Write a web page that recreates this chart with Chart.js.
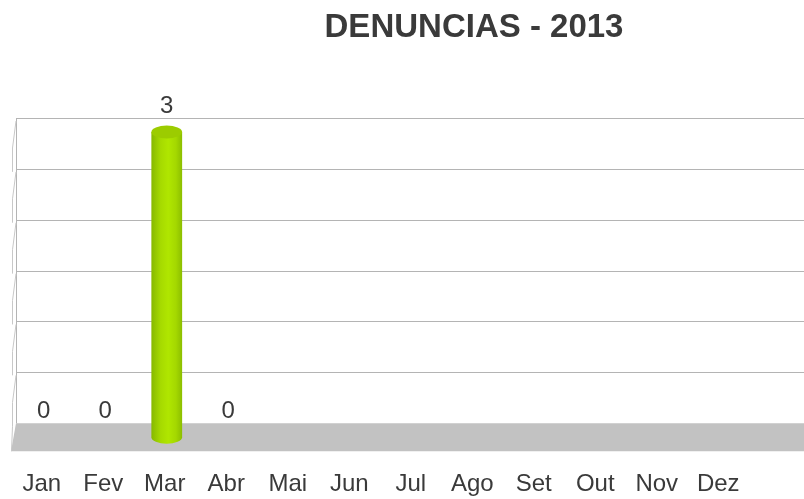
<!DOCTYPE html>
<html>
<head>
<meta charset="utf-8">
<title>Denuncias 2013</title>
<script src="https://cdn.jsdelivr.net/npm/chart.js@4"></script>
<style>
  html, body { margin: 0; padding: 0; background: #fff; }
  canvas { display: block; }
</style>
</head>
<body>
<canvas id="denunciasChart" width="804" height="499"></canvas>
<script>
// --- DATA ---
const chartTitle = "DENUNCIAS - 2013";
const months = ["Jan", "Fev", "Mar", "Abr", "Mai", "Jun", "Jul", "Ago", "Set", "Out", "Nov", "Dez"];
const denuncias = [0, 0, 3, 0, null, null, null, null, null, null, null, null];
const yMax = 3;
const yStep = 0.5;

const FONT = "'Liberation Sans', Arial, sans-serif";
const TEXT = "#3a3a3a";

// --- 3D LOOK (wall, floor, cylinders, labels) ---
const pseudo3d = {
    id: "pseudo3d",
    beforeDatasetsDraw(chart) {
        const ctx = chart.ctx;
        const y = chart.scales.y;
        const wallLeft = 16;
        const sideLeft = 12;
        const right = chart.width;
        const floorTop = y.getPixelForValue(0);
        const floorBottom = floorTop + 28;

        ctx.save();
        // floor
        ctx.fillStyle = "#c2c2c2";
        ctx.beginPath();
        ctx.moveTo(wallLeft, floorTop);
        ctx.lineTo(right, floorTop);
        ctx.lineTo(right, floorBottom);
        ctx.lineTo(sideLeft - 1, floorBottom);
        ctx.closePath();
        ctx.fill();

        // back wall grid lines
        ctx.strokeStyle = "#b4b4b4";
        ctx.lineWidth = 1;
        y.ticks.forEach(t => {
            if (t.value === 0) return;
            const py = Math.round(y.getPixelForValue(t.value)) + 0.5;
            ctx.beginPath();
            ctx.moveTo(wallLeft, py);
            ctx.lineTo(right, py);
            ctx.stroke();
        });
        ctx.beginPath();
        ctx.moveTo(wallLeft + 0.5, y.getPixelForValue(yMax));
        ctx.lineTo(wallLeft + 0.5, floorTop);
        ctx.stroke();

        // side wall
        ctx.strokeStyle = "#c8c8c8";
        y.ticks.forEach(t => {
            if (t.value === 0) return;
            const py = y.getPixelForValue(t.value);
            const next = y.getPixelForValue(t.value - yStep);
            ctx.beginPath();
            ctx.moveTo(wallLeft, py + 3);
            ctx.lineTo(sideLeft + 0.5, py + 30);
            ctx.lineTo(sideLeft + 0.5, next + 3);
            ctx.stroke();
        });
        ctx.beginPath();
        ctx.moveTo(sideLeft + 0.5, floorTop + 3);
        ctx.lineTo(sideLeft - 0.5, floorBottom);
        ctx.stroke();
        ctx.restore();
    },
    afterDatasetsDraw(chart) {
        const ctx = chart.ctx;
        const y = chart.scales.y;
        const meta = chart.getDatasetMeta(0);
        const data = chart.data.datasets[0].data;
        const depth = 14;

        ctx.save();
        meta.data.forEach((bar, i) => {
            const v = data[i];
            if (v === null || v === undefined) return;
            const cx = bar.x + 2;
            if (v > 0) {
                const rx = bar.width / 2;
                const ry = 6.5;
                const top = bar.y + depth;
                const bottom = bar.base + depth;
                const grad = ctx.createLinearGradient(cx - rx, 0, cx + rx, 0);
                grad.addColorStop(0, "#86b800");
                grad.addColorStop(0.3, "#a6da00");
                grad.addColorStop(0.55, "#b0e600");
                grad.addColorStop(0.8, "#a4d800");
                grad.addColorStop(1, "#8cbe00");
                ctx.fillStyle = grad;
                ctx.beginPath();
                ctx.moveTo(cx - rx, top);
                ctx.lineTo(cx - rx, bottom);
                ctx.ellipse(cx, bottom, rx, ry, 0, Math.PI, 0, true);
                ctx.lineTo(cx + rx, top);
                ctx.closePath();
                ctx.fill();
                ctx.fillStyle = "#9ccc00";
                ctx.beginPath();
                ctx.ellipse(cx, top, rx, ry, 0, 0, Math.PI * 2);
                ctx.fill();
            }
            // value label
            ctx.fillStyle = TEXT;
            ctx.font = "24px " + FONT;
            ctx.textAlign = "center";
            ctx.textBaseline = "alphabetic";
            ctx.fillText(String(v), cx, y.getPixelForValue(v) - 5);
        });

        // title
        ctx.fillStyle = TEXT;
        ctx.font = "bold 33px " + FONT;
        ctx.textAlign = "center";
        ctx.textBaseline = "alphabetic";
        ctx.fillText(chartTitle, 474, 37);
        ctx.restore();
    }
};

// --- CHART ---
new Chart(document.getElementById("denunciasChart"), {
    type: "bar",
    data: {
        labels: months,
        datasets: [{
            label: "Denúncias",
            data: denuncias,
            backgroundColor: "rgba(0,0,0,0)",
            categoryPercentage: 1,
            barPercentage: 0.5
        }]
    },
    options: {
        responsive: false,
        animation: false,
        devicePixelRatio: 1,
        layout: {
            padding: { left: 11, right: 55, top: 118, bottom: 0 }
        },
        plugins: {
            legend: { display: false },
            title: { display: false },
            tooltip: { enabled: false }
        },
        scales: {
            x: {
                // tick marks are not drawn (grid hidden) but their length pushes the labels down
                grid: { display: false, drawTicks: true, tickLength: 47 },
                border: { display: false },
                ticks: {
                    color: TEXT,
                    font: { family: FONT, size: 24 },
                    padding: 0,
                    autoSkip: false,
                    maxRotation: 0
                }
            },
            y: {
                display: false,
                min: 0,
                max: yMax,
                ticks: { stepSize: yStep }
            }
        }
    },
    plugins: [pseudo3d]
});
</script>
</body>
</html>
